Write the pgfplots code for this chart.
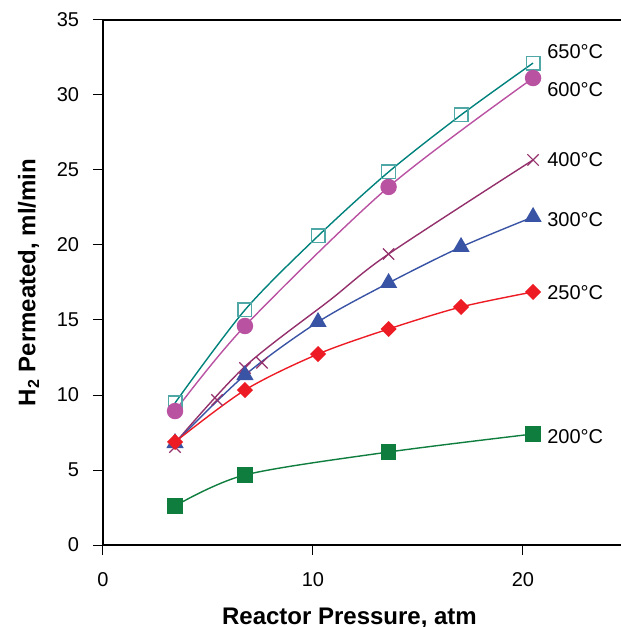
\documentclass[border=0pt]{standalone}
\usepackage{fontspec}
\setmainfont{Liberation Sans}
\usepackage{pgfplots}
\pgfplotsset{compat=1.18}
\definecolor{c650}{HTML}{00827C}
\definecolor{c650m}{HTML}{4FA8A6}
\definecolor{c600}{HTML}{BA52A2}
\definecolor{c400}{HTML}{94306B}
\definecolor{c300}{HTML}{3A54A5}
\definecolor{c250}{HTML}{ED1C24}
\definecolor{c200}{HTML}{0E7D3E}
\begin{document}
\begin{tikzpicture}
\begin{axis}[
 at={(0,0)}, anchor=south west,
 scale only axis, width=262.5pt, height=262.5pt,
 xmin=0, xmax=25, ymin=0, ymax=35,
 xtick={0,10,20}, ytick={0,5,...,35},
 tick align=outside, tick pos=left,
 major tick length=4.75pt,
 axis line style={line width=0.8pt, black},
 tick style={line width=0.5pt, black},
 /pgf/number format/assume math mode=true,
 ticklabel style={font=\fontsize{10}{12}\selectfont},
 xticklabel style={yshift=-5.5pt},
 yticklabel style={xshift=-3.7pt},
 xlabel={\textbf{Reactor Pressure, atm}},
 xlabel style={at={(axis description cs:0.4695,-0.1505)}, anchor=base, font=\fontsize{12}{14}\selectfont},
 ylabel={\textbf{H\textsubscript{2} Permeated, ml/min}},
 ylabel style={at={(axis description cs:-0.1286,0.5)}, rotate=0, anchor=base, font=\fontsize{12}{14}\selectfont},
 clip=false,
 every axis plot/.append style={line width=0.7pt},
]
% 650
\addplot[c650, smooth, mark=square, mark size=3.4pt, mark options={draw=c650m, line width=0.7pt}] coordinates {
 (3.43,9.47) (6.76,15.67) (10.24,20.6) (13.6,24.87) (17.05,28.67) (20.48,32.13)};
% 600
\addplot[c600, smooth, mark=*, mark size=3.75pt, mark options={fill=c600, draw=c600}] coordinates {
 (3.43,8.93) (6.76,14.6) (13.6,23.87) (20.48,31.13)};
% 400 line
\addplot[c400, smooth, no marks] coordinates {
 (3.43,6.8) (6.76,11.9) (10.81,16.33) (13.6,19.4) (20.48,25.67)};
% 400 marks
\addplot[c400, only marks, mark=x, mark size=4pt, mark options={line width=0.6pt}] coordinates {
 (3.43,6.53) (5.43,9.67) (6.76,11.8) (7.57,12.15) (13.6,19.4) (20.48,25.67)};
% 300
\addplot[c300, smooth, mark=triangle*, mark size=4.3pt, mark options={fill=c300, draw=c300}] coordinates {
 (3.43,6.8) (6.76,11.33) (10.24,14.87) (13.6,17.47) (17.05,19.87) (20.48,21.87)};
% 250
\addplot[c250, smooth, mark=square*, mark size=2.5pt, mark options={rotate=45, fill=c250, draw=c250}] coordinates {
 (3.43,6.87) (6.76,10.33) (10.24,12.73) (13.6,14.4) (17.05,15.87) (20.48,16.87)};
% 200
\addplot[c200, smooth, mark=square*, mark size=3.5pt, mark options={fill=c200, draw=c200}] coordinates {
 (3.43,2.6) (6.76,4.67) (13.6,6.2) (20.48,7.4)};
\begin{scope}[every node/.style={anchor=west, inner sep=0pt, font=\fontsize{10}{12}\selectfont}]
\node at (axis cs:21.14,32.87) {650\textdegree C};
\node at (axis cs:21.14,30.35) {600\textdegree C};
\node at (axis cs:21.14,25.67) {400\textdegree C};
\node at (axis cs:21.14,21.7) {300\textdegree C};
\node at (axis cs:21.14,16.83) {250\textdegree C};
\node at (axis cs:21.14,7.2) {200\textdegree C};
\end{scope}
\end{axis}
\pgfresetboundingbox
\useasboundingbox (-51.5pt,-41pt) rectangle (259pt,272.5pt);
\end{tikzpicture}
\end{document}
